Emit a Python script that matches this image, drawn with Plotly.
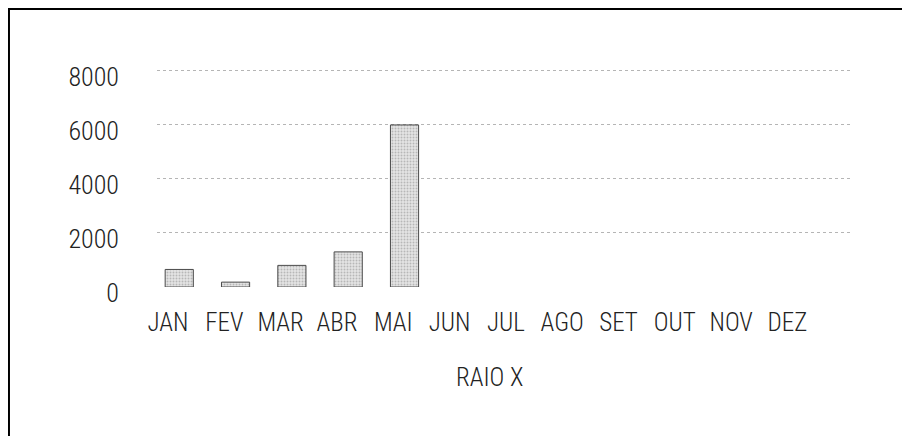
import plotly.graph_objects as go

months = ["JAN", "FEV", "MAR", "ABR", "MAI", "JUN", "JUL", "AGO", "SET", "OUT", "NOV", "DEZ"]
raio_x = [650, 180, 800, 1300, 6000, None, None, None, None, None, None, None]
y_ticks = [0, 2000, 4000, 6000, 8000]
x_title = "RAIO X"

FONT = "Roboto Condensed, DejaVu Sans Condensed, sans-serif"

fig = go.Figure()
fig.add_trace(go.Bar(
    x=months, y=raio_x, width=0.5, offset=-0.05,
    marker=dict(
        color="#dcdcdc",
        line=dict(color="#4a4a4a", width=1),
        pattern=dict(shape=".", fgcolor="#8a8a8a", bgcolor="#e4e4e4", size=3, solidity=0.35),
    ),
    showlegend=False,
))

fig.add_annotation(
    text=x_title, xref="paper", yref="paper", x=0.48, y=-0.383,
    xanchor="center", yanchor="middle", showarrow=False,
    font=dict(family=FONT, size=25, color="#222", weight=300),
)

fig.update_layout(
    width=910, height=436,
    margin=dict(l=149, r=68, t=44, b=157),
    paper_bgcolor="white", plot_bgcolor="white",
    font=dict(family=FONT, size=25, color="#222", weight=300),
    xaxis=dict(
        range=[-0.195, 12.11],
        showgrid=False, showline=False, zeroline=False, ticks="",
        ticklabelstandoff=18,
    ),
    yaxis=dict(
        range=[0, 8700], tickvals=y_ticks, showline=False, zeroline=False, ticks="",
        showgrid=True, gridcolor="#b5b5b5", griddash="dot", gridwidth=1,
        tickfont=dict(size=26),
        ticklabelstandoff=37, ticklabelshift=6,
    ),
    shapes=[
        dict(type="line", xref="paper", yref="paper", x0=-0.2136, x1=-0.2136, y0=1.187, y1=-0.7,
             line=dict(color="black", width=2)),
        dict(type="line", xref="paper", yref="paper", x0=-0.216, x1=1.2, y0=1.183, y1=1.183,
             line=dict(color="black", width=2)),
    ],
)

fig.write_html("out.html")
